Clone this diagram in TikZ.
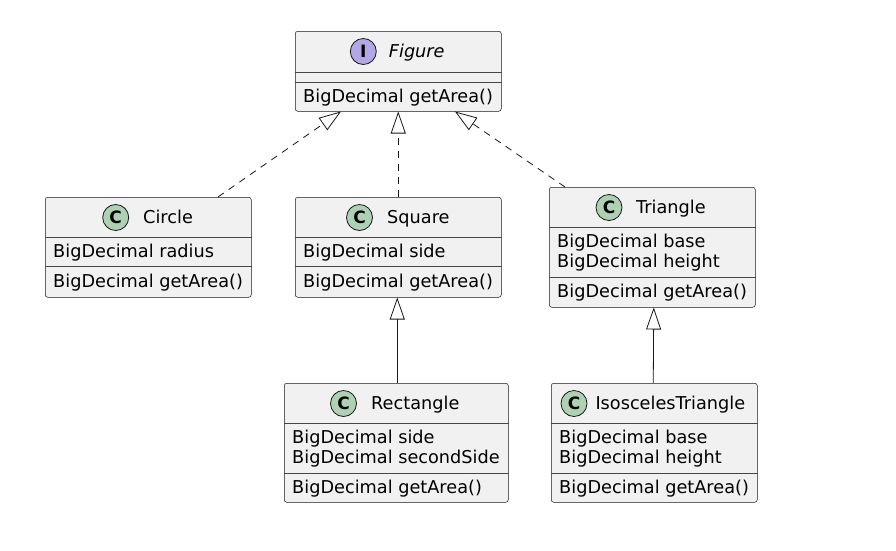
\documentclass[tikz,border=0pt]{standalone}
\usepackage{fontspec}
\setmainfont{DejaVu Sans}
\usetikzlibrary{arrows.meta,calc}
\definecolor{boxfill}{HTML}{F1F1F1}
\definecolor{boxline}{HTML}{181818}
\definecolor{classicon}{HTML}{ADD1B2}
\definecolor{ifaceicon}{HTML}{B4A7E5}
\tikzset{
  umlbox/.style={rectangle, draw=boxline, fill=boxfill, line width=0.5pt, rounded corners=2.5pt, inner sep=0pt, anchor=north west},
  sepline/.style={draw=boxline!80, line width=0.5pt},
  txt/.style={anchor=base west, inner sep=0pt, font=\fontsize{17.7}{20}\selectfont},
  icon/.style={circle, draw=boxline, line width=0.8pt, minimum size=26pt, inner sep=0pt, font=\fontsize{17}{17}\selectfont\bfseries},
  classicn/.style={icon, fill=classicon},
  ifaceicn/.style={icon, fill=ifaceicon},
  realize/.style={draw=boxline, line width=0.8pt, dash pattern=on 7pt off 6pt, -{Triangle[open, length=22pt, width=15pt]}},
  extend/.style={draw=boxline, line width=0.8pt, -{Triangle[open, length=22pt, width=15pt]}},
}
\begin{document}
\begin{tikzpicture}[x=1pt, y=-1pt]
\useasboundingbox[fill=white] (0,0) rectangle (896,550);

% Figure
\node[umlbox, minimum width=206pt, minimum height=80pt] (figure) at (295,31) {};
\draw[sepline] ($(figure.north west)+(0,41)$) -- ($(figure.north east)+(0,41)$);
\draw[sepline] ($(figure.north west)+(0,51)$) -- ($(figure.north east)+(0,51)$);
\node[ifaceicn] (figureIcon) at (363.3,51.5) {I};
\node[txt] (figureName) at (388.7,57) {\itshape Figure};
\node[txt] (figureM1) at (303,102) {BigDecimal getArea()};

% Circle
\node[umlbox, minimum width=206pt, minimum height=100pt] (circle) at (45,197) {};
\draw[sepline] ($(circle.north west)+(0,40)$) -- ($(circle.north east)+(0,40)$);
\draw[sepline] ($(circle.north west)+(0,69)$) -- ($(circle.north east)+(0,69)$);
\node[classicn] (circleIcon) at (115.7,217.5) {C};
\node[txt] (circleName) at (143,223) {Circle};
\node[txt] (circleA1) at (53,257) {BigDecimal radius};
\node[txt] (circleM1) at (53,287) {BigDecimal getArea()};

% Square
\node[umlbox, minimum width=206pt, minimum height=100pt] (square) at (295,197) {};
\draw[sepline] ($(square.north west)+(0,40)$) -- ($(square.north east)+(0,40)$);
\draw[sepline] ($(square.north west)+(0,69)$) -- ($(square.north east)+(0,69)$);
\node[classicn] (squareIcon) at (359.5,217.5) {C};
\node[txt] (squareName) at (387,223) {Square};
\node[txt] (squareA1) at (303,257) {BigDecimal side};
\node[txt] (squareM1) at (303,287) {BigDecimal getArea()};

% Triangle
\node[umlbox, minimum width=206pt, minimum height=120pt] (triangle) at (549,187) {};
\draw[sepline] ($(triangle.north west)+(0,40)$) -- ($(triangle.north east)+(0,40)$);
\draw[sepline] ($(triangle.north west)+(0,90)$) -- ($(triangle.north east)+(0,90)$);
\node[classicn] (triangleIcon) at (609,207.5) {C};
\node[txt] (triangleName) at (636,213) {Triangle};
\node[txt] (triangleA1) at (557,247) {BigDecimal base};
\node[txt] (triangleA2) at (557,267) {BigDecimal height};
\node[txt] (triangleM1) at (557,297) {BigDecimal getArea()};

% Rectangle
\node[umlbox, minimum width=224pt, minimum height=119pt] (rectangle) at (284,383) {};
\draw[sepline] ($(rectangle.north west)+(0,40)$) -- ($(rectangle.north east)+(0,40)$);
\draw[sepline] ($(rectangle.north west)+(0,90)$) -- ($(rectangle.north east)+(0,90)$);
\node[classicn] (rectangleIcon) at (343.5,403.5) {C};
\node[txt] (rectangleName) at (371,409) {Rectangle};
\node[txt] (rectangleA1) at (292,443) {BigDecimal side};
\node[txt] (rectangleA2) at (292,463) {BigDecimal secondSide};
\node[txt] (rectangleM1) at (292,493) {BigDecimal getArea()};

% IsoscelesTriangle
\node[umlbox, minimum width=206pt, minimum height=119pt] (iso) at (551,383) {};
\draw[sepline] ($(iso.north west)+(0,40)$) -- ($(iso.north east)+(0,40)$);
\draw[sepline] ($(iso.north west)+(0,90)$) -- ($(iso.north east)+(0,90)$);
\node[classicn] (isoIcon) at (574,403.5) {C};
\node[txt] (isoName) at (595.3,409) {IsoscelesTriangle};
\node[txt] (isoA1) at (559,443) {BigDecimal base};
\node[txt] (isoA2) at (559,463) {BigDecimal height};
\node[txt] (isoM1) at (559,493) {BigDecimal getArea()};

% Connectors
\draw[realize] ($(circle.north west)+(173,0)$) -- ($(figure.south west)+(46,0)$);
\draw[realize] (square.north) -- (figure.south);
\draw[realize] ($(triangle.north west)+(16,0)$) -- ($(figure.south west)+(160,0)$);
\draw[extend] ($(rectangle.north)+(1,0)$) -- ($(square.south)+(-1,0)$);
\draw[extend] ($(iso.north)+(-1,0)$) -- ($(triangle.south)+(1.5,0)$);
\end{tikzpicture}
\end{document}
